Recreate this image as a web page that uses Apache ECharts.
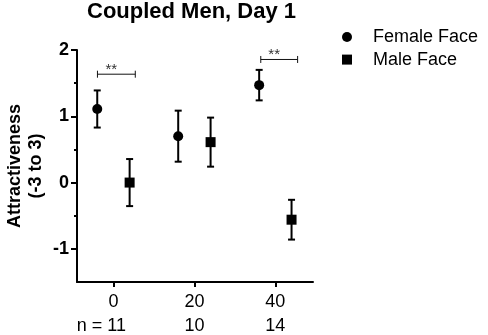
<!DOCTYPE html>
<html><head><meta charset="utf-8">
<script src="https://cdn.jsdelivr.net/npm/echarts@6/dist/echarts.min.js"></script>
<style>html,body{margin:0;padding:0;background:#fff}#c{width:488px;height:335px}</style>
</head><body><div id="c"></div>
<script>
const groupTicks = [0, 20, 40];
const groupN = ['n = 11', '10', '14'];
const yTicks = [-1, 0, 1, 2];
const yMinorTicks = [-0.5, 0.5, 1.5];
const femaleX = [-4, 16, 36];
const femaleMean = [1.11, 0.70, 1.47];
const femaleSem = [0.28, 0.385, 0.23];
const maleX = [4, 24, 44];
const maleMean = [0.00, 0.61, -0.56];
const maleSem = [0.355, 0.37, 0.30];
const sigStart = [-3.95, 36.4];
const sigEnd = [5.4, 45.5];
const sigY = [1.635, 1.857];
const sigText = ['**', '**'];

const FONT = '"Liberation Sans", Arial, sans-serif';
const chart = echarts.init(document.getElementById('c'), null, {renderer: 'canvas'});

function zip3(a, b, c) { return a.map((v, i) => [v, b[i], c[i]]); }

function errRender(params, api) {
  const x = api.value(0), m = api.value(1), e = api.value(2);
  const top = api.coord([x, m + e]);
  const bot = api.coord([x, m - e]);
  const hw = 3.5;
  const style = {stroke: '#000', lineWidth: 2};
  return {type: 'group', children: [
    {type: 'line', shape: {x1: top[0], y1: top[1], x2: bot[0], y2: bot[1]}, style},
    {type: 'line', shape: {x1: top[0] - hw, y1: top[1], x2: top[0] + hw, y2: top[1]}, style},
    {type: 'line', shape: {x1: bot[0] - hw, y1: bot[1], x2: bot[0] + hw, y2: bot[1]}, style}
  ]};
}

function sigRender(params, api) {
  const a = api.coord([api.value(0), api.value(2)]);
  const b = api.coord([api.value(1), api.value(2)]);
  const style = {stroke: '#111', lineWidth: 1};
  const h = 3.5;
  return {type: 'group', children: [
    {type: 'line', shape: {x1: a[0], y1: a[1], x2: b[0], y2: b[1]}, style},
    {type: 'line', shape: {x1: a[0], y1: a[1] - h, x2: a[0], y2: a[1] + h}, style},
    {type: 'line', shape: {x1: b[0], y1: b[1] - h, x2: b[0], y2: b[1] + h}, style},
    {type: 'text', style: {x: (a[0] + b[0]) / 2 - 5, y: a[1] - 4.5, text: sigText[params.dataIndex],
      fill: '#333', font: '15px ' + FONT, align: 'center', verticalAlign: 'middle'}}
  ]};
}

const option = {
  animation: false,
  backgroundColor: '#fff',
  title: {
    text: 'Coupled Men, Day 1', left: 87, top: 0, padding: 0,
    textStyle: {fontFamily: FONT, fontWeight: 'bold', fontSize: 22, color: '#000', lineHeight: 24}
  },
  legend: {
    data: ['Female Face', 'Male Face'], orient: 'vertical', left: 342, top: 26, padding: 0,
    itemWidth: 10, itemHeight: 10, itemGap: 0.6,
    textStyle: {fontFamily: FONT, fontSize: 18, color: '#000', lineHeight: 22, padding: [0, 0, 0, 16]}
  },
  grid: {left: 77, top: 50, width: 236, height: 235, containLabel: false},
  xAxis: {
    type: 'value', min: -9, max: 49.3,
    axisLine: {show: true, onZero: false, lineStyle: {color: '#000', width: 2}},
    axisTick: {show: true, customValues: groupTicks, length: 5, lineStyle: {color: '#000', width: 2}},
    axisLabel: {
      customValues: groupTicks, margin: 8,
      formatter: function (v) {
        const i = groupTicks.indexOf(v);
        return '{a|' + v + '}\n' + (i === 0 ? '{p|' : '{b|') + groupN[i] + '}';
      },
      rich: {
        a: {fontFamily: FONT, fontSize: 18, lineHeight: 24, color: '#000'},
        b: {fontFamily: FONT, fontSize: 18, lineHeight: 24, color: '#000'},
        p: {fontFamily: FONT, fontSize: 18, lineHeight: 24, color: '#000', padding: [0, 24, 0, 0]}
      }
    },
    splitLine: {show: false}
  },
  yAxis: [{
    type: 'value', min: -1.5, max: 2, position: 'left',
    name: 'Attractiveness\n(-3 to 3)', nameLocation: 'middle', nameRotate: 90, nameGap: 30,
    nameTextStyle: {fontFamily: FONT, fontWeight: 'bold', fontSize: 18, lineHeight: 21, color: '#000', align: 'center'},
    axisLine: {show: true, onZero: false, lineStyle: {color: '#000', width: 2}},
    axisTick: {show: true, customValues: yTicks, length: 6, lineStyle: {color: '#000', width: 2}},
    axisLabel: {customValues: yTicks, margin: 8, fontFamily: FONT, fontWeight: 'bold', fontSize: 18, color: '#000'},
    splitLine: {show: false}
  }, {
    type: 'value', min: -1.5, max: 2, position: 'left', offset: 0,
    axisLine: {show: false, onZero: false},
    axisTick: {show: true, customValues: yMinorTicks, length: 3, lineStyle: {color: '#000', width: 2}},
    axisLabel: {show: false},
    splitLine: {show: false}
  }],
  series: [
    {type: 'custom', name: 'femaleErr', renderItem: errRender, data: zip3(femaleX, femaleMean, femaleSem),
      encode: {x: 0, y: 1}, clip: false, z: 2, silent: true},
    {type: 'custom', name: 'maleErr', renderItem: errRender, data: zip3(maleX, maleMean, maleSem),
      encode: {x: 0, y: 1}, clip: false, z: 2, silent: true},
    {type: 'scatter', name: 'Female Face', symbol: 'circle', symbolSize: 10,
      data: femaleX.map((x, i) => [x, femaleMean[i]]), itemStyle: {color: '#000', opacity: 1}, z: 5},
    {type: 'scatter', name: 'Male Face', symbol: 'rect', symbolSize: 10,
      data: maleX.map((x, i) => [x, maleMean[i]]), itemStyle: {color: '#000', opacity: 1}, z: 5},
    {type: 'custom', name: 'sig', renderItem: sigRender, data: zip3(sigStart, sigEnd, sigY),
      encode: {x: [0, 1], y: 2}, clip: false, z: 3, silent: true}
  ]
};
chart.setOption(option);
</script></body></html>
